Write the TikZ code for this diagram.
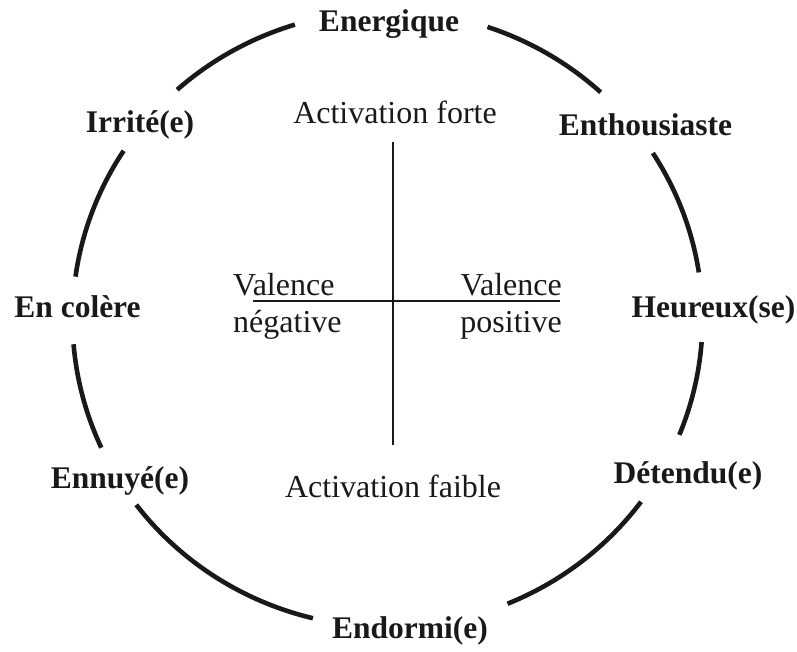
\documentclass[tikz,border=0pt]{standalone}
\usepackage{fontspec}
\setmainfont{Liberation Serif}
\usetikzlibrary{calc}
\begin{document}
\begin{tikzpicture}[x=1pt,y=1pt,
  arcline/.style={line width=4.6pt, draw=black!90},
  axis/.style={line width=1.8pt, draw=black!90},
  emo/.style={inner sep=0pt, anchor=base, font=\fontsize{31.5}{36}\selectfont\bfseries, text=black!90},
  lab/.style={inner sep=0pt, font=\fontsize{32}{36}\selectfont, text=black!90}]
\useasboundingbox (0,0) rectangle (797,651);
\coordinate (C) at (387.5,332);
% circle arcs
\foreach \a/\b in {8.7/32.6, 47.4/71.5, 107.1/131.9, 146.9/172.1, 184.7/204.7, 217.1/256.3, 292.4/323.6, 337.9/355.7}{
  \draw[arcline] ($(C)+(\a:315 and 308)$) arc[start angle=\a, end angle=\b, x radius=315, y radius=308];
}
% axes
\coordinate (vt) at (393,509);
\coordinate (vb) at (393,206);
\coordinate (hl) at (253,350);
\coordinate (hr) at (560,350);
\draw[axis] (vt) -- (vb);
\draw[axis] (hl) -- (hr);
% emotion labels
\node[emo] (energ) at (389,619) {Energique};
\node[emo] (irr) at (140,518) {Irrité(e)};
\node[emo] (enth) at (645.5,515) {Enthousiaste};
\node[emo] (col) at (77.5,333) {En colère};
\node[emo] (heur) at (713.5,333) {Heureux(se)};
\node[emo] (ennu) at (120,163) {Ennuyé(e)};
\node[emo] (det) at (688,168) {Détendu(e)};
\node[emo] (endo) at (410,13) {Endormi(e)};
% axis labels
\node[lab, anchor=base] (afo) at (395,527) {Activation forte};
\node[lab, anchor=base] (afa) at (393,154) {Activation faible};
\node[lab, anchor=base west] (vl1) at (233,355) {Valence};
\node[lab, anchor=base west] (vl2) at (233,318) {négative};
\node[lab, anchor=base east] (vr1) at (562,355) {Valence};
\node[lab, anchor=base east] (vr2) at (562,318) {positive};
\end{tikzpicture}
\end{document}
